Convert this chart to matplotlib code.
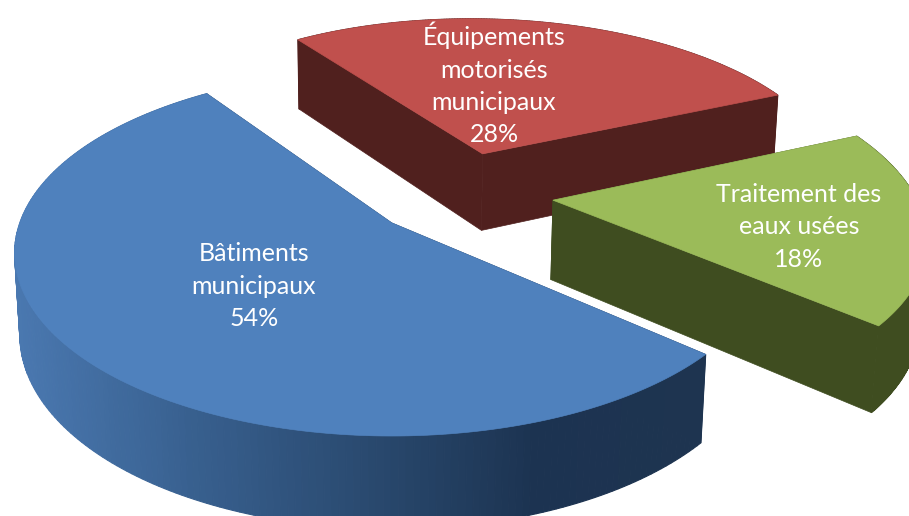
import numpy as np
import matplotlib
matplotlib.use("Agg")
import matplotlib.pyplot as plt
from matplotlib.colors import LinearSegmentedColormap
from matplotlib.patches import Polygon

# ---- Data ----
categories = ["Bâtiments\nmunicipaux", "Traitement des\neaux usées", "Équipements\nmotorisés\nmunicipaux"]
shares = [54, 18, 28]

top_colors = ["#4F81BD", "#9BBB59", "#C0504D"]
side_colors = ["#1E3450", "#3F4D20", "#50201E"]
label_pos = [(254, 286), (799, 227), (494, 84)]

# ---- Projection settings (disc of radius 1 seen in perspective) ----
start_angle = 124.4
explode = 0.255
depth = 0.46
x0, y0 = 392, 223
ax_x, ax_y = 372, 178
persp = 0.165
shrink = 0.03
cx, cy = 0.19, 0.17


def project(X, Y, Z=0.0):
    X = np.asarray(X) + cx
    Y = np.asarray(Y) + cy
    w = 1 + persp * Y + shrink * Z
    return x0 + ax_x * X / w, y0 - ax_y * Y / w + ax_y * Z / w


fig = plt.figure(figsize=(9.09, 5.16), dpi=100)
ax = fig.add_axes([0, 0, 1, 1])
ax.set_xlim(0, 909)
ax.set_ylim(516, 0)
ax.axis("off")

blue_side = LinearSegmentedColormap.from_list(
    "blue_side", ["#4A78B0", "#38608F", "#2A4A70", "#1C3351", "#1E3450"]
)

# red first, then green, blue is the one in front
angles = {}
a = start_angle
for i, s in enumerate(shares):
    angles[i] = (a, a + s * 3.6)
    a += s * 3.6

for i in [2, 1, 0]:
    a1, a2 = angles[i]
    mid = np.radians((a1 + a2) / 2)
    ox, oy = explode * np.cos(mid), explode * np.sin(mid)
    t = np.radians(np.linspace(a1, a2, 200))
    arc_x = ox + np.cos(t)
    arc_y = oy + np.sin(t)

    # cut faces
    for j in [0, -1]:
        px, py = project([ox, arc_x[j], arc_x[j], ox], [oy, arc_y[j], arc_y[j], oy], np.array([0, 0, depth, depth]))
        ax.add_patch(Polygon(np.column_stack([px, py]), facecolor=side_colors[i], edgecolor=side_colors[i], lw=0.5))

    # outer wall, small quads so the blue one can carry the gradient
    tx, ty = project(arc_x, arc_y, 0.0)
    bx, by = project(arc_x, arc_y, depth)
    for j in range(len(t) - 1):
        if i == 0:
            c = blue_side(np.clip((tx[j] - 15) / 690, 0, 1))
        else:
            c = side_colors[i]
        quad = [(tx[j], ty[j]), (tx[j + 1], ty[j + 1]), (bx[j + 1], by[j + 1]), (bx[j], by[j])]
        ax.add_patch(Polygon(quad, facecolor=c, edgecolor=c, lw=0.8))

    # top face
    sx, sy = project(ox, oy, 0.0)
    ax.add_patch(Polygon(np.column_stack([np.r_[sx, tx], np.r_[sy, ty]]), facecolor=top_colors[i], edgecolor=top_colors[i], lw=0.5))

for i, name in enumerate(categories):
    ax.text(label_pos[i][0], label_pos[i][1], f"{name}\n{shares[i]}%", color="white", ha="center", va="center",
            fontsize=18, family="Lato", linespacing=1.5)

fig.savefig("out.png", dpi=100)
